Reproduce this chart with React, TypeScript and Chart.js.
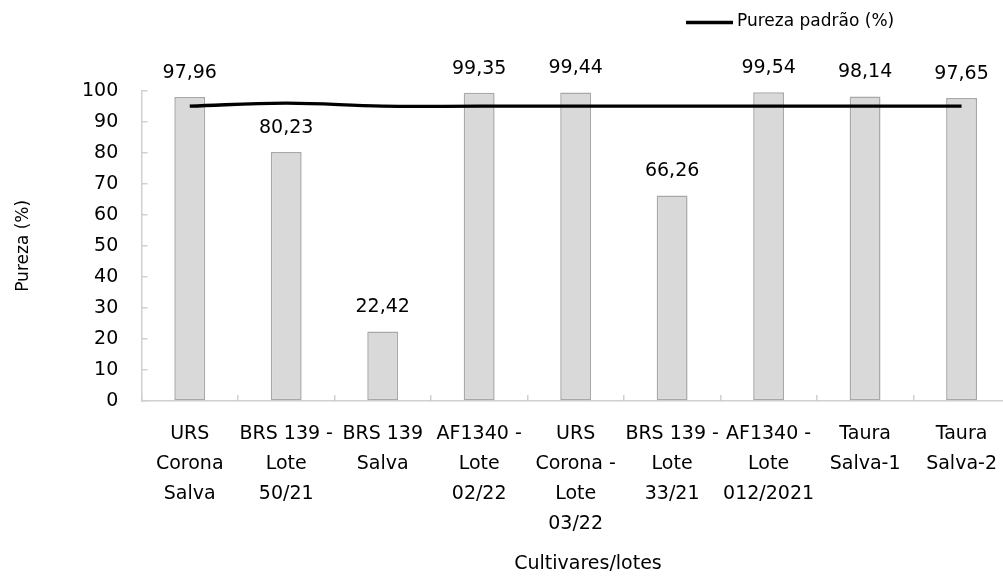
import React, { useEffect, useRef } from "react";
import { Chart, registerables } from "chart.js";

Chart.register(...registerables);

const categories: string[][] = [
  ["URS", "Corona", "Salva"],
  ["BRS 139 -", "Lote", "50/21"],
  ["BRS 139", "Salva"],
  ["AF1340 -", "Lote", "02/22"],
  ["URS", "Corona -", "Lote", "03/22"],
  ["BRS 139 -", "Lote", "33/21"],
  ["AF1340 -", "Lote", "012/2021"],
  ["Taura", "Salva-1"],
  ["Taura", "Salva-2"],
];
const purezaValues: number[] = [97.96, 80.23, 22.42, 99.35, 99.44, 66.26, 99.54, 98.14, 97.65];
const purezaPadrao: number[] = [95, 96, 95, 95, 95, 95, 95, 95, 95];
const yTicks: number[] = [0, 10, 20, 30, 40, 50, 60, 70, 80, 90, 100];
const legendLabel = "Pureza padrão (%)";
const yTitle = "Pureza (%)";
const xTitle = "Cultivares/lotes";

const FONT = "'DejaVu Sans', sans-serif";
const TEXT = "#000000";
const AXIS = "#d0d0d0";

const fmt = (v: number) => v.toFixed(2).replace(".", ",");

const overlayPlugin = {
  id: "overlay",
  afterDatasetsDraw(chart: any) {
    const ctx = chart.ctx;
    ctx.save();
    // data labels
    const meta = chart.getDatasetMeta(0);
    ctx.font = `19px ${FONT}`;
    ctx.fillStyle = TEXT;
    ctx.textAlign = "center";
    ctx.textBaseline = "middle";
    meta.data.forEach((el: any, i: number) => {
      ctx.fillText(fmt(purezaValues[i]), el.x, el.y - 24);
    });
    // x title
    ctx.font = `19px ${FONT}`;
    ctx.fillText(xTitle, 588, 564);
    // legend
    ctx.strokeStyle = "#000";
    ctx.lineWidth = 3.3;
    ctx.beginPath();
    ctx.moveTo(686, 22.5);
    ctx.lineTo(733, 22.5);
    ctx.stroke();
    ctx.font = `17px ${FONT}`;
    ctx.textAlign = "left";
    ctx.fillText(legendLabel, 737, 22);
    ctx.restore();
  },
};

export default function App() {
  const ref = useRef<HTMLCanvasElement>(null);
  useEffect(() => {
    if (!ref.current) return;
    const chart = new Chart(ref.current, {
      type: "bar",
      data: {
        labels: categories,
        datasets: [
          {
            type: "bar",
            label: "Pureza (%)",
            data: purezaValues,
            backgroundColor: "#d9d9d9",
            borderColor: "#a8a8a8",
            borderWidth: 1.5,
            borderSkipped: false,
            barPercentage: 1,
            categoryPercentage: 0.32,
            order: 2,
          } as any,
          {
            type: "line",
            label: legendLabel,
            data: purezaPadrao,
            borderColor: "#000",
            borderWidth: 3.3,
            pointRadius: 0,
            tension: 0.4,
            fill: false,
            order: 1,
          } as any,
        ],
      },
      options: {
        responsive: false,
        animation: false,
        devicePixelRatio: 1,
        layout: { padding: { top: 90.7, right: 1030 - 1009.8, left: 0, bottom: 0 } },
        plugins: { legend: { display: false }, tooltip: { enabled: false } },
        scales: {
          x: {
            grid: {
              display: true,
              drawOnChartArea: false,
              drawTicks: true,
              tickLength: -6,
              color: AXIS,
              lineWidth: 1.5,
              offset: true,
            },
            border: { display: true, color: AXIS, width: 1.5 },
            ticks: {
              color: TEXT,
              font: { family: FONT, size: 19, lineHeight: 30 / 19 },
              padding: 24.3,
              maxRotation: 0,
              minRotation: 0,
              autoSkip: false,
            },
            afterFit: (s: any) => {
              s.height = 576 - 401;
            },
          },
          y: {
            min: 0,
            max: 100,
            afterBuildTicks: (s: any) => {
              s.ticks = yTicks.map((v) => ({ value: v }));
            },
            grid: {
              display: true,
              drawOnChartArea: false,
              drawTicks: true,
              tickLength: -6,
              color: AXIS,
              lineWidth: 1.5,
            },
            border: { display: true, color: AXIS, width: 1.5 },
            ticks: {
              color: TEXT,
              font: { family: FONT, size: 19 },
              padding: 29.2,
            },
            title: {
              display: true,
              text: yTitle,
              color: TEXT,
              font: { family: FONT, size: 17 },
              padding: 13,
            },
            afterFit: (s: any) => {
              s.width = 141.5;
            },
          },
        },
      },
      plugins: [overlayPlugin],
    });
    return () => chart.destroy();
  }, []);
  return (
    <div
      style={{
        position: "fixed",
        left: 0,
        top: 0,
        width: 1003,
        height: 576,
        overflow: "hidden",
        background: "#fff",
      }}
    >
      <canvas ref={ref} width={1030} height={576} style={{ display: "block" }} />
    </div>
  );
}
